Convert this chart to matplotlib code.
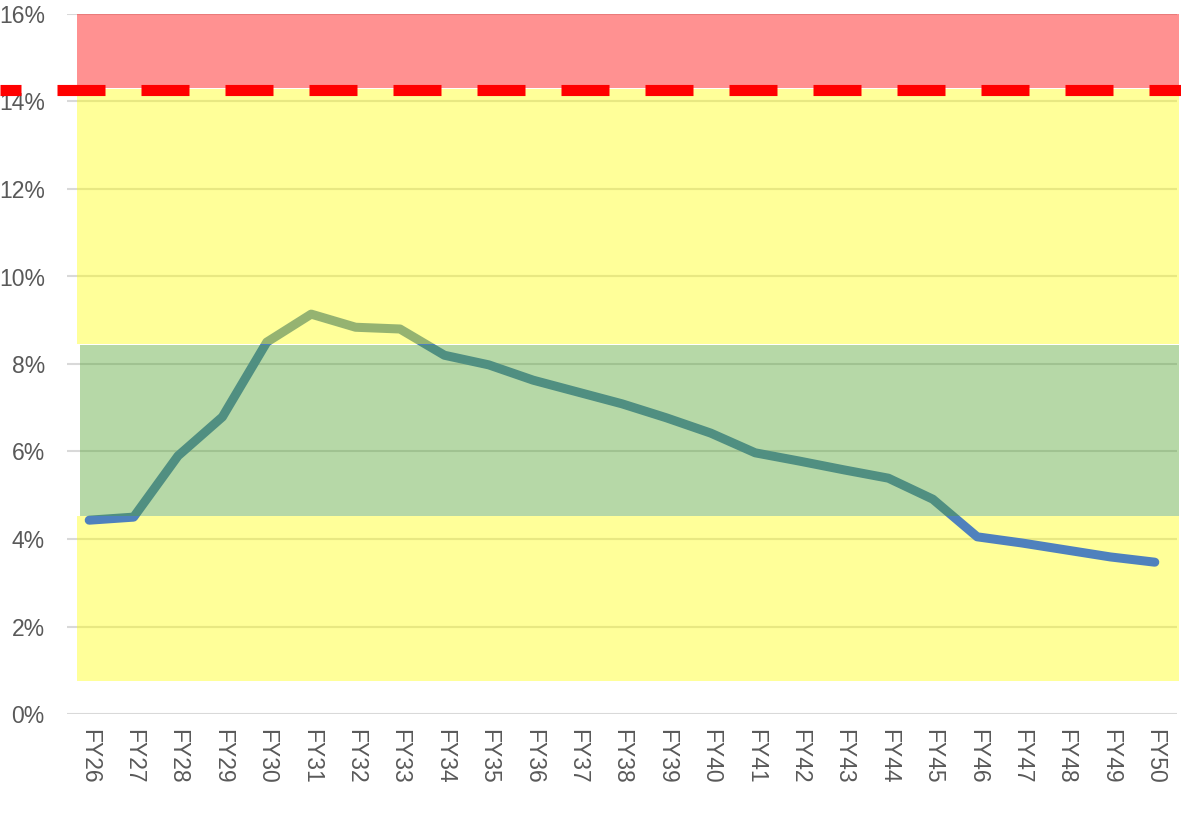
import numpy as np
import matplotlib
matplotlib.use('Agg')
from matplotlib import pyplot as plt

plt.rcParams['font.family'] = ['Liberation Sans', 'DejaVu Sans']
plt.rcParams['lines.scale_dashes'] = False

years = ['FY%d' % y for y in range(26, 51)]
ratio = [4.43, 4.50, 5.90, 6.79, 8.50, 9.14, 8.84, 8.80, 8.20, 7.98, 7.63, 7.36,
         7.09, 6.77, 6.42, 5.97, 5.78, 5.58, 5.39, 4.91, 4.05, 3.91, 3.75, 3.59, 3.47]

# band limits (%)
low_yellow = (0.75, 4.53)
green_band = (4.53, 8.43)
high_yellow = (8.43, 14.28)
red_band = (14.28, 16.0)
limit = 14.27

fig = plt.figure(figsize=(11.81, 8.15), dpi=100)
ax = fig.add_axes([67/1181, 101/815, 1110/1181, 700/815])

x = np.arange(len(years))
ax.plot(x, ratio, color='#4F81BD', lw=6.5, solid_capstyle='round',
        solid_joinstyle='round', zorder=2)

yel = (1.0, 1.0, 0.0, 0.4)
ax.axhspan(*low_yellow, xmin=0.009, xmax=1.002, color=yel, lw=0, zorder=1, clip_on=False)
ax.axhspan(*green_band, xmin=0.0117, xmax=1.002, color=(0.32, 0.64, 0.18, 0.42), lw=0, zorder=3, clip_on=False)
ax.axhspan(high_yellow[0] + 0.02, high_yellow[1], xmin=0.009, xmax=1.002, color=yel, lw=0, zorder=3, clip_on=False)
ax.axhspan(red_band[0] + 0.02, red_band[1], xmin=0.009, xmax=1.002, color=(1.0, 0.0, 0.0, 0.43), lw=0, zorder=3, clip_on=False)

# dashed limit line, running out past the left edge of the plot
ln, = ax.plot([-2.009, 25.5], [limit, limit], color='red', lw=8,
              zorder=4, clip_on=False)
ln.set_linestyle((19.44, (34.56, 25.92)))
ln.set_dash_capstyle('butt')

ax.set_xlim(-0.5, len(years) - 0.5)
ax.set_ylim(0, 16)
ax.set_yticks(np.arange(0, 17, 2))
ax.set_yticklabels(['%d%%' % v for v in range(0, 17, 2)])
ax.set_xticks(x)
ax.set_xticklabels(years, rotation=-90)
ax.tick_params(axis='both', length=0, labelsize=16.5, labelcolor='#595959')
ax.tick_params(axis='y', pad=16)
ax.tick_params(axis='x', pad=11)
ax.grid(axis='y', color='#D9D9D9', lw=1.5, zorder=0.5)
ax.set_axisbelow(True)
for s in ax.spines.values():
    s.set_visible(False)

fig.savefig('out.png', dpi=100)
